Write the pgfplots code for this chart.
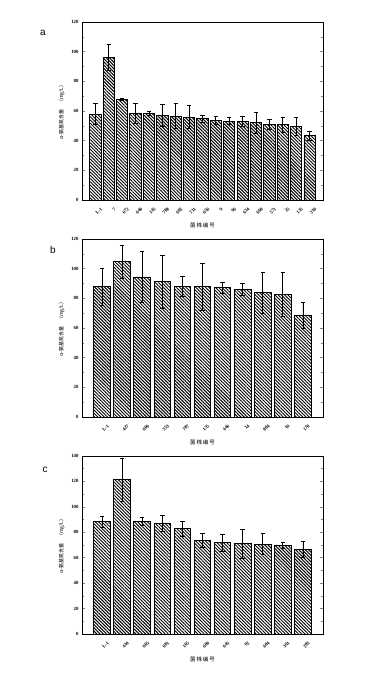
\documentclass[border=0pt]{standalone}
\usepackage{fontspec}
\usepackage{pgfplots}
\pgfplotsset{compat=1.18}
\usetikzlibrary{patterns.meta}
\newfontfamily\cjk{Noto Sans CJK SC}
\newfontfamily\arial{Liberation Sans}
\setmainfont{Liberation Serif}

\pgfplotstableread{
x v e
0 57.9 7.0
1 96.2 9.0
2 68.0 0.8
3 58.6 6.7
4 58.3 1.2
5 56.8 7.4
6 56.5 8.5
7 55.9 7.8
8 54.7 2.5
9 53.8 2.7
10 53.2 2.4
11 52.9 3.5
12 52.0 7.3
13 50.9 3.6
14 50.7 5.2
15 49.5 5.9
16 43.2 3.0
}\dataA
\pgfplotstableread{
x v e
0 87.9 12.4
1 104.8 11.0
2 94.4 17.0
3 91.1 17.7
4 87.9 6.8
5 87.7 15.7
6 87.0 3.6
7 86.1 3.8
8 83.7 13.9
9 82.5 14.9
10 68.4 8.8
}\dataB
\pgfplotstableread{
x v e
0 88.2 4.7
1 121.4 16.8
2 88.5 3.4
3 86.9 6.5
4 82.7 6.0
5 73.8 5.5
6 71.7 6.6
7 71.2 11.5
8 70.7 8.3
9 69.9 2.3
10 66.5 6.5
}\dataC

\pgfplotsset{
  panel/.style={
    scale only axis, width=241pt, height=178pt,
    ymin=0,
    axis line style={line width=0.9pt},
    xtick=data,
    x tick style={draw=none},
    ytick pos=both,
    tick align=inside,
    minor y tick num=1,
    y tick style={line width=0.5pt},
    major tick length=3pt, minor tick length=2pt,
    yticklabel style={font=\fontsize{4.8}{5}\selectfont\bfseries},
    xticklabel style={rotate=45, anchor=north east, font=\fontsize{4.8}{5}\selectfont\bfseries, yshift=-5pt, xshift=2pt},
    xlabel={\cjk 菌\,株\,编\,号},
    xlabel style={font=\fontsize{5.5}{6}\selectfont, at={(axis description cs:0.5,0)}, anchor=center, yshift=-25pt},
    ylabel={\cjk α-氨基氮含量\quad （mg/L）},
    ylabel style={font=\fontsize{5}{6}\selectfont, at={(axis description cs:-0.085,0.5)}, anchor=center, rotate=0},
    /pgf/number format/assume math mode=true,
  },
  barplot/.style={
    ybar, draw=black, line width=0.9pt,
    pattern={Lines[angle=-45, distance=2.3pt, line width=0.95pt]},
    error bars/.cd, y dir=both, y explicit,
    error bar style={line width=0.8pt, black},
    error mark options={rotate=90, mark size=2.2pt, line width=0.7pt, black},
  }
}

\begin{document}
\begin{tikzpicture}
\path[use as bounding box] (0,0) rectangle (368pt,677pt);

\begin{axis}[panel, at={(82pt,477pt)}, anchor=south west,
  xmin=-1, xmax=17, ymax=120, ytick={0,20,...,120},
  bar width=0.84,
  xticklabels={L-1,7,672,640,143,788,602,711,656,9,96,634,660,571,25,135,310}]
\addplot[barplot] table[x=x, y=v, y error=e]{\dataA};
\end{axis}
\node[font=\arial\fontsize{10}{12}\selectfont] at (43pt,644pt) {a};

\begin{axis}[panel, at={(82pt,260pt)}, anchor=south west,
  xmin=-1, xmax=11, ymax=120, ytick={0,20,...,120},
  bar width=0.83,
  xticklabels={L-1,427,606,353,787,155,446,14,004,19,170}]
\addplot[barplot] table[x=x, y=v, y error=e]{\dataB};
\end{axis}
\node[font=\arial\fontsize{10}{12}\selectfont] at (53pt,427pt) {b};

\begin{axis}[panel, at={(82pt,43pt)}, anchor=south west,
  xmin=-1, xmax=11, ymax=140, ytick={0,20,...,140},
  bar width=0.83,
  xticklabels={L-1,410,665,681,165,600,645,92,604,361,203}]
\addplot[barplot] table[x=x, y=v, y error=e]{\dataC};
\end{axis}
\node[font=\arial\fontsize{10}{12}\selectfont] at (45pt,207pt) {c};
\end{tikzpicture}
\end{document}
